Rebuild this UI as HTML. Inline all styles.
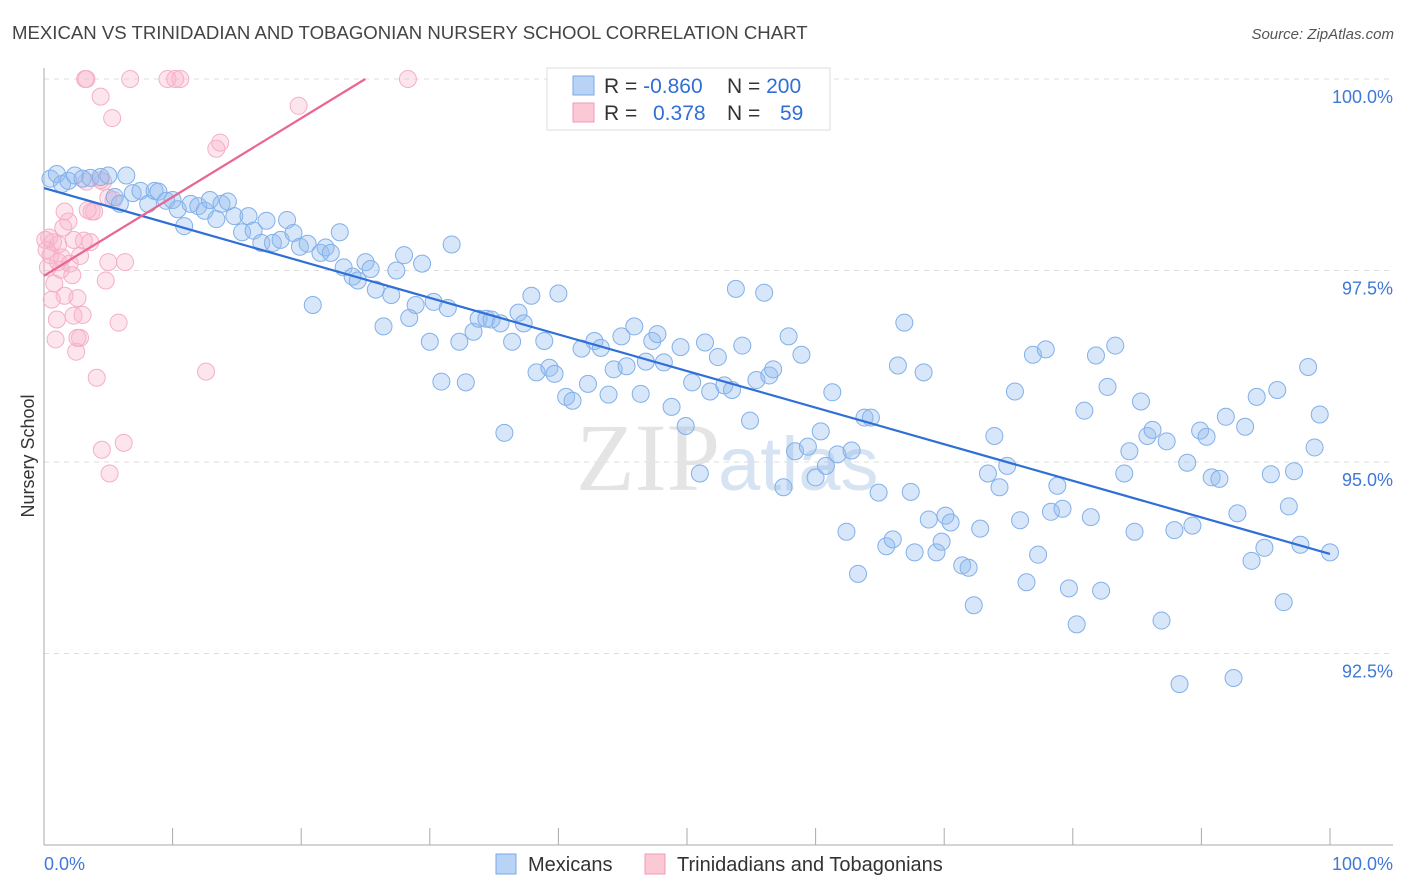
<!DOCTYPE html>
<html><head><meta charset="utf-8"><style>
body{margin:0;background:#fff;font-family:"Liberation Sans",sans-serif;}
#wrap{position:relative;width:1406px;height:892px;overflow:hidden;}
</style></head><body>
<div id="wrap">
<svg id="svg" width="1406" height="892" xmlns="http://www.w3.org/2000/svg">
<text x="12" y="39" font-size="18.6" fill="#444">MEXICAN VS TRINIDADIAN AND TOBAGONIAN NURSERY SCHOOL CORRELATION CHART</text>
<text x="1394" y="39" font-size="15" fill="#555" font-style="italic" text-anchor="end">Source: ZipAtlas.com</text>
<text x="34" y="456" font-size="18" fill="#333" text-anchor="middle" transform="rotate(-90 34 456)">Nursery School</text>
<g id="grid"></g>
<text x="720" y="490" font-size="96" fill="#e4e4e4" text-anchor="end" font-family="Liberation Serif,serif">ZIP</text>
<text x="718" y="490" font-size="76" fill="#d6e3f3">atlas</text>
<g id="marks"></g>
<g>
<rect x="547" y="68" width="283" height="62" fill="#fff" stroke="#ddd"/>
<rect x="573" y="76" width="21" height="19" fill="#b8d3f5" stroke="#7aa8e6"/>
<rect x="573" y="103" width="21" height="19" fill="#fbc8d6" stroke="#f09ab4"/>
<text x="604" y="93" font-size="21" fill="#333">R = <tspan fill="#2f6fd6">-0.860</tspan></text>
<text x="727" y="93" font-size="21" fill="#333">N = <tspan fill="#2f6fd6">200</tspan></text>
<text x="604" y="120" font-size="21" fill="#333">R = <tspan fill="#2f6fd6" x="653">0.378</tspan></text>
<text x="727" y="120" font-size="21" fill="#333">N = <tspan fill="#2f6fd6" x="780">59</tspan></text>
</g>
<g>
<rect x="496" y="854" width="20" height="20" fill="#b8d3f5" stroke="#7aa8e6"/>
<text x="528" y="871" font-size="20" fill="#333">Mexicans</text>
<rect x="645" y="854" width="20" height="20" fill="#fbc8d6" stroke="#f09ab4"/>
<text x="677" y="871" font-size="20" fill="#333">Trinidadians and Tobagonians</text>
</g>
</svg>
</div>
<script>
const yTicks=[100,97.5,95,92.5];
const yTickLabels=["100.0%","97.5%","95.0%","92.5%"];
const xTicks=[10,20,30,40,50,60,70,80,90,100];
const blueX=[0.5,1.0,1.4,1.9,2.4,3.0,3.6,4.4,5.0,6.4,5.5,5.9,6.9,7.5,8.1,8.6,8.9,9.5,10.0,10.4,10.9,11.4,12.0,12.5,12.9,13.4,13.8,14.3,14.8,15.4,15.9,16.3,16.9,17.3,17.8,18.4,18.9,19.4,19.9,20.5,20.9,21.5,21.9,22.3,23.0,23.3,24.0,24.4,25.0,25.4,25.8,26.4,27.0,27.4,28.0,28.4,28.9,29.4,30.0,30.3,30.9,31.4,31.7,32.3,32.8,33.4,33.8,34.4,34.8,35.5,35.8,36.4,36.9,37.3,37.9,38.3,38.9,39.3,39.7,40.0,40.6,41.1,41.8,42.3,42.8,43.3,43.9,44.3,44.9,45.3,45.9,46.4,46.8,47.3,47.7,48.2,48.8,49.5,49.9,50.4,51.0,51.4,51.8,52.4,52.9,53.5,53.8,54.3,54.9,55.4,56.0,56.4,56.7,57.5,57.9,58.4,58.9,59.4,60.0,60.4,60.8,61.3,61.7,62.4,62.8,63.3,63.8,64.3,64.9,65.5,66.0,66.4,66.9,67.4,67.7,68.4,68.8,69.4,69.8,70.1,70.5,71.4,71.9,72.3,72.8,73.4,73.9,74.3,74.9,75.5,75.9,76.4,76.9,77.3,77.9,78.3,78.8,79.2,79.7,80.3,80.9,81.4,81.8,82.2,82.7,83.3,84.0,84.4,84.8,85.3,85.8,86.2,86.9,87.3,87.9,88.3,88.9,89.3,89.9,90.4,90.8,91.4,91.9,92.5,92.8,93.4,93.9,94.3,94.9,95.4,95.9,96.4,96.8,97.2,97.7,98.3,98.8,99.2,100.0];
const blueY=[98.7,98.76,98.63,98.67,98.74,98.7,98.71,98.72,98.74,98.74,98.46,98.37,98.51,98.54,98.37,98.54,98.53,98.41,98.42,98.3,98.08,98.37,98.34,98.28,98.42,98.17,98.37,98.4,98.21,98.0,98.21,98.02,97.86,98.15,97.86,97.9,98.16,97.99,97.81,97.85,97.05,97.73,97.8,97.73,98.0,97.54,97.42,97.37,97.61,97.52,97.25,96.77,97.18,97.5,97.7,96.88,97.05,97.59,96.57,97.09,96.05,97.01,97.84,96.57,96.04,96.7,96.87,96.87,96.86,96.81,95.38,96.57,96.95,96.81,97.17,96.17,96.58,96.23,96.15,97.2,95.85,95.8,96.48,96.02,96.58,96.49,95.88,96.21,96.64,96.25,96.77,95.89,96.31,96.58,96.67,96.3,95.72,96.5,95.47,96.04,94.85,96.56,95.92,96.37,96.0,95.94,97.26,96.52,95.54,96.07,97.21,96.13,96.21,94.67,96.64,95.14,96.4,95.2,94.8,95.4,94.95,95.91,95.1,94.09,95.15,93.54,95.58,95.58,94.6,93.9,93.99,96.26,96.82,94.61,93.82,96.17,94.25,93.82,93.96,94.3,94.21,93.65,93.62,93.13,94.13,94.85,95.34,94.67,94.95,95.92,94.24,93.43,96.4,93.79,96.47,94.35,94.69,94.39,93.35,92.88,95.67,94.28,96.39,93.32,95.98,96.52,94.85,95.14,94.09,95.79,95.34,95.42,92.93,95.27,94.11,92.1,94.99,94.17,95.41,95.33,94.8,94.78,95.59,92.18,94.33,95.46,93.71,95.85,93.88,94.84,95.94,93.17,94.42,94.88,93.92,96.24,95.19,95.62,93.82];
const pinkX=[0.4,0.7,1.1,1.4,0.5,0.8,1.0,0.9,1.3,1.6,1.9,2.0,2.2,2.3,2.5,2.6,2.8,2.8,3.0,3.1,3.2,3.3,3.6,3.7,3.9,4.1,4.4,4.5,4.6,4.8,5.0,5.1,5.3,5.4,5.8,6.2,6.3,6.7,9.6,10.2,10.6,12.6,13.4,13.7,19.8,28.3,0.3,0.6,1.1,1.5,2.3,2.6,3.4,5.0,3.3,4.4,1.6,0.1,0.2];
const pinkY=[97.93,97.87,97.84,97.67,97.7,97.33,96.86,96.6,97.51,97.17,98.14,97.59,97.44,96.91,96.44,97.14,97.69,96.62,96.92,97.89,100,100,97.87,98.27,98.27,96.1,99.77,95.16,98.66,97.37,97.61,94.85,99.49,98.42,96.82,95.25,97.61,100,100,100,100,96.18,99.09,99.17,99.65,100,97.54,97.12,97.61,98.06,97.9,96.62,98.29,98.45,98.66,98.68,98.27,97.9,97.77];

const NS="http://www.w3.org/2000/svg";
const X0=44,X1=1330,Ytop=79,Ybot=845;
function sx(v){return X0+(v/100)*(X1-X0);}
function sy(v){return Ytop+(100-v)/10*(Ybot-Ytop);}
function mk(tag,attrs,parent){const e=document.createElementNS(NS,tag);for(const k in attrs)e.setAttribute(k,attrs[k]);parent.appendChild(e);return e;}
const grid=document.getElementById('grid'),marks=document.getElementById('marks');
yTicks.forEach((t,i)=>{
 const l=mk('line',{x1:X0,x2:1393,y1:sy(t),y2:sy(t),stroke:'#ddd','stroke-dasharray':'5,5'},grid);
 
 
 const tx=mk('text',{x:1393,y:sy(t)+24,'font-size':18,fill:'#3f78d8','text-anchor':'end'},grid);
 tx.textContent=yTickLabels[i];
 
 
});
const ax=mk('line',{x1:X0,x2:1393,y1:Ybot,y2:Ybot,stroke:'#aaa'},grid);


const ay=mk('line',{x1:X0,x2:X0,y1:68,y2:Ybot,stroke:'#aaa'},grid);


xTicks.forEach(t=>{
 const l=mk('line',{x1:sx(t),x2:sx(t),y1:828,y2:Ybot,stroke:'#aaa'},grid);
 
 
});
[[0,'0.0%','start',X0],[100,'100.0%','end',1393]].forEach(a=>{
 const tx=mk('text',{x:a[3],y:870,'font-size':18,fill:'#3f78d8','text-anchor':a[2]},grid);
 tx.textContent=a[1];
 
 
});
function fit(xs,ys){const n=xs.length;let mx=0,my=0;for(let i=0;i<n;i++){mx+=xs[i];my+=ys[i];}mx/=n;my/=n;let a=0,b=0;for(let i=0;i<n;i++){a+=(xs[i]-mx)*(ys[i]-my);b+=(xs[i]-mx)**2;}const s=a/b;return [s,my-s*mx];}
function pts(xs,ys,fill,stroke,name){xs.forEach((x,i)=>{const c=mk('circle',{cx:sx(x),cy:sy(ys[i]),r:8.5,fill:fill,stroke:stroke,'stroke-width':1},marks);
 
 });}
pts(pinkX,pinkY,'rgba(248,180,204,0.35)','#f4afc6','pink-point');
pts(blueX,blueY,'rgba(150,190,240,0.38)','#82b0ea','blue-point');
let [bs,bi]=fit(blueX,blueY);
const bl=mk('line',{x1:sx(0),y1:sy(bi),x2:sx(100),y2:sy(bi+bs*100),stroke:'#2f6fd6','stroke-width':2.2},marks);


let [ps,pi]=fit(pinkX,pinkY);
let xe=ps>0?Math.min(100,(100-pi)/ps):100;
const pl=mk('line',{x1:sx(0),y1:sy(pi),x2:sx(xe),y2:sy(pi+ps*xe),stroke:'#e8668f','stroke-width':2.2},marks);


</script>
</body></html>
